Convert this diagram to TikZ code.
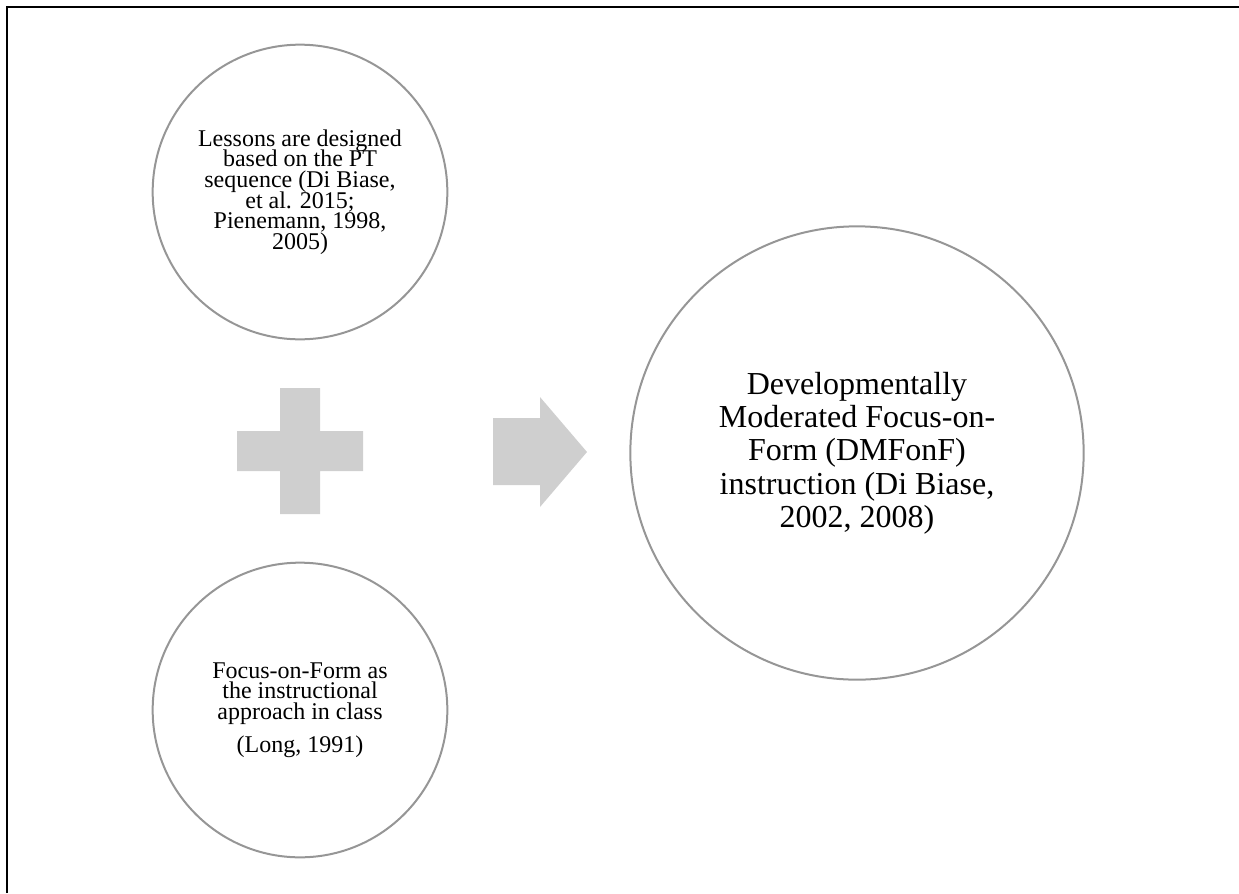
\documentclass[tikz,border=0pt]{standalone}
\usepackage{fontspec}
\setmainfont{Liberation Serif}
\usetikzlibrary{positioning}
\definecolor{ringgray}{RGB}{150,150,150}
\definecolor{glyphgray}{RGB}{207,207,207}
\lineskiplimit=-20pt

\begin{document}
\begin{tikzpicture}[
  x=0.75pt,y=-0.75pt,
  ring/.style={circle,draw=ringgray,line width=1.5pt,inner sep=0pt,align=center},
  smallring/.style={ring,minimum size=221pt,font=\fontsize{18}{15.5}\selectfont},
  bigring/.style={ring,minimum size=340pt,font=\fontsize{24}{25}\selectfont},
  glyph/.style={fill=glyphgray,draw=none}
]
\useasboundingbox (0,0) rectangle (1239,893);
% frame, top and left only
\draw[line width=1.7pt] (7,893) -- (7,7) -- (1239,7);

\node[smallring] (lessons) at (300,192) {Lessons are designed\\based on the PT\\sequence (Di Biase,\\et al. 2015;\\Pienemann, 1998,\\2005)};
\node[smallring] (focus) at (300,710) {Focus-on-Form as\\the instructional\\approach in class\\[9pt](Long, 1991)};
\node[bigring] (dmfonf) at (857,453) {Developmentally\\Moderated Focus-on-\\Form (DMFonF)\\instruction (Di Biase,\\2002, 2008)};

% plus sign
\fill[glyph] (280,388) -- (320,388) -- (320,431) -- (363,431) -- (363,471) -- (320,471)
  -- (320,514) -- (280,514) -- (280,471) -- (237,471) -- (237,431) -- (280,431) -- cycle;
% block arrow
\fill[glyph] (493,418) -- (540,418) -- (540,397) -- (587,452) -- (540,507) -- (540,485)
  -- (493,485) -- cycle;
\end{tikzpicture}
\end{document}
